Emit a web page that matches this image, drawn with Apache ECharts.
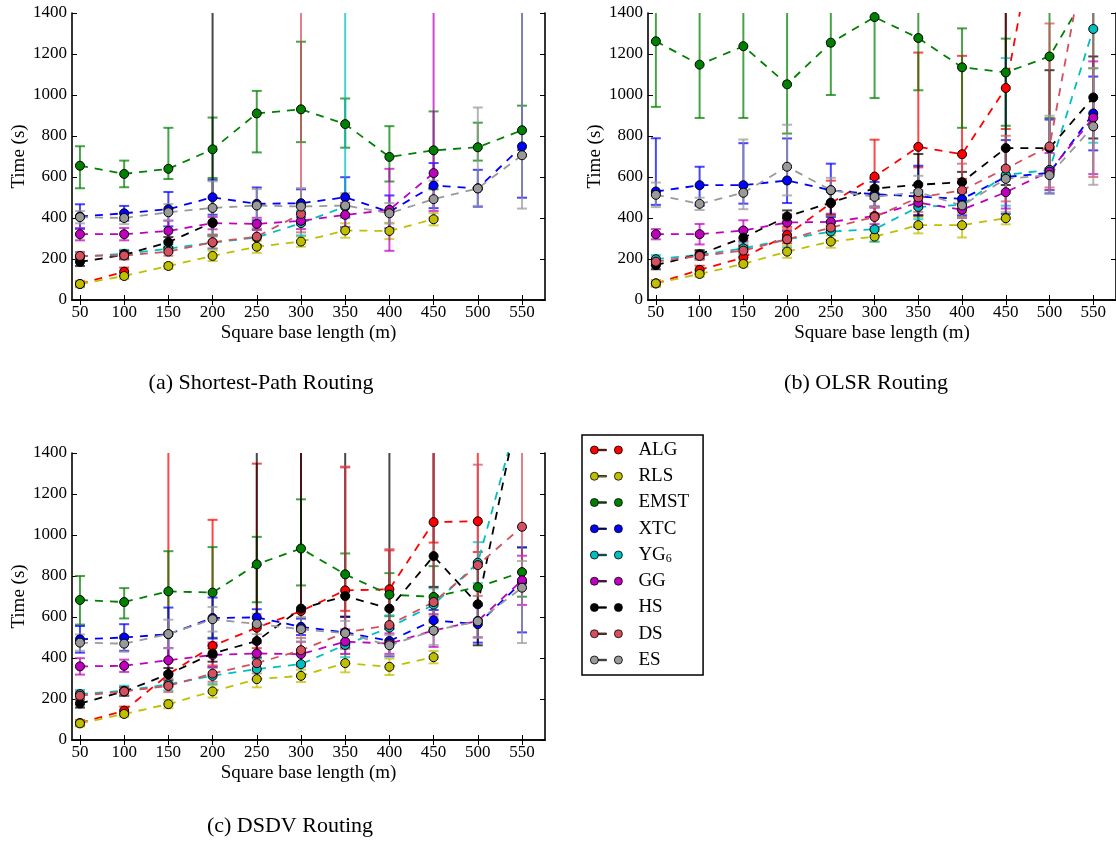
<!DOCTYPE html>
<html>
<head>
<meta charset="utf-8">
<script src="https://cdn.jsdelivr.net/npm/echarts@6/dist/echarts.min.js"></script>
<style>html,body{margin:0;padding:0;background:#fff}#c{width:1116px;height:842px}</style>
</head>
<body>
<div id="c"></div>
<script>
// ---------- DATA ----------
const xValues = [50, 100, 150, 200, 250, 300, 350, 400, 450, 500, 550];
const yTicks = [0, 200, 400, 600, 800, 1000, 1200, 1400];
const algorithms = ['ALG', 'RLS', 'EMST', 'XTC', 'YG6', 'GG', 'HS', 'DS', 'ES'];

// (a) Shortest-Path Routing  (values, error half-widths or [down, up])
const spALG  = [78, 138];
const spALGErr  = [15, 20];
const spRLS  = [78, 117, 166, 215, 260, 285, 339, 337, 394];
const spRLSErr  = [15, 15, 15, 25, 30, 25, 35, 40, 30];
const spEMST = [655, 615, 640, 735, 910, 930, 858, 698, 730, 745, 828];
const spEMSTErr = [[110, 95], 65, [50, 200], [140, 155], [190, 110], [160, 330], [115, 125], [120, 150], [190, 190], [65, 120], [120, 120]];
const spXTC  = [407, 423, 443, 501, 469, 472, 501, 430, 558, 545, 749];
const spXTCErr  = [60, 36, 84, 85, 80, 68, 98, 80, 110, 90, [250, 1000]];
const spYG6  = [212, 225, 250, 280, 305, 375, 455];
const spYG6Err  = [20, 20, 20, 30, 40, 60, [100, 1000]];
const spGG   = [321, 321, 337, 375, 371, 386, 415, 440, 619];
const spGGErr   = [30, 30, 50, 30, 30, 40, 60, 200, [185, 1000]];
const spHS   = [186, 220, 282, 378];
const spHSErr   = [20, 20, 25, [60, 1200]];
const spDS   = [215, 217, 236, 282, 309, 420];
const spDSErr   = [20, 20, 20, 30, 40, [90, 1000]];
const spES   = [404, 400, 428, 449, 461, 456, 461, 423, 492, 544, 706];
const spESErr   = [30, 30, 40, 130, 80, 90, 60, 50, 90, [85, 395], [260, 1000]];

// (b) OLSR Routing
const olsrALG  = [81, 147, 207, 317, 472, 602, 747, 711, 1034, 2180];
const olsrALGErr  = [15, 20, 25, 40, 110, 180, [100, 460], [120, 480], [200, 1000], [400, 1000]];
const olsrRLS  = [81, 127, 176, 236, 285, 309, 365, 365, 399];
const olsrRLSErr  = [15, 15, 15, 30, 30, 25, 40, 60, 30];
const olsrEMST = [1262, 1148, 1238, 1052, 1255, 1380, 1278, 1135, 1110, 1188, 1550];
const olsrEMSTErr = [[320, 400], [260, 400], [350, 400], [240, 400], [255, 400], [395, 300], [255, 400], [295, 190], [260, 165], [300, 300], [420, 400]];
const olsrXTC  = [529, 560, 560, 583, 535, 516, 505, 493, 600, 620, 910];
const olsrXTCErr  = [[65, 260], [100, 90], [90, 205], [110, 205], 130, 60, 150, 80, 180, [100, 260], 180];
const olsrYG6  = [199, 220, 252, 296, 334, 345, 454, 464, 610, 635, 1322];
const olsrYG6Err  = [20, 20, 30, 40, 40, 60, 60, 60, [150, 570], 100, [555, 200]];
const olsrGG   = [321, 321, 339, 378, 381, 410, 475, 440, 526, 627, 889];
const olsrGGErr   = [25, 50, 50, 40, 40, 40, 60, 40, 80, 90, 275];
const olsrHS   = [170, 223, 304, 407, 475, 544, 562, 575, 741, 741, 988];
const olsrHSErr   = [20, 20, 40, 30, 60, 50, 150, 50, [180, 1000], [100, 380], 200];
const olsrDS   = [187, 215, 241, 296, 353, 405, 500, 535, 641, 749, 1900];
const olsrDSErr   = [20, 20, 30, 50, 60, 50, 70, 130, 160, [200, 600], [1300, 1000]];
const olsrES   = [513, 469, 523, 650, 536, 503, 526, 461, 591, 609, 847];
const olsrESErr   = [60, 30, [80, 260], [140, 205], 60, 50, 80, 60, 60, [90, 290], 285];

// (c) DSDV Routing
const dsdvALG  = [83, 143, 320, 459, 548, 629, 730, 735, 1063, 1067];
const dsdvALGErr  = [15, 20, [60, 1200], [100, 615], [100, 800], [100, 800], [100, 600], [100, 190], [100, 600], [150, 600]];
const dsdvRLS  = [81, 127, 175, 237, 297, 313, 375, 357, 404];
const dsdvRLSErr  = [15, 15, 20, 30, 40, 30, 45, 40, 30];
const dsdvEMST = [683, 673, 725, 719, 857, 934, 808, 709, 698, 746, 819];
const dsdvEMSTErr = [[120, 117], [80, 68], [200, 196], [220, 222], [185, 134], [180, 240], 102, 105, 150, [80, 100], 120];
const dsdvXTC  = [491, 500, 516, 595, 598, 552, 525, 483, 584, 565, 770];
const dsdvXTCErr  = [65, 65, 130, 100, 40, 40, 75, 75, 50, 90, [245, 170]];
const dsdvYG6  = [224, 240, 272, 313, 346, 370, 464, 548, 660, 865, 1650];
const dsdvYG6Err  = [20, 25, 30, 40, 50, 60, 60, 60, 80, 100, [200, 1000]];
const dsdvGG   = [359, 362, 389, 415, 422, 419, 480, 470, 534, 581, 779];
const dsdvGGErr   = [40, 30, 60, 60, 50, 60, 60, 50, 80, 80, 120];
const dsdvHS   = [178, 237, 321, 422, 483, 641, 702, 641, 897, 662, 1700];
const dsdvHSErr   = [20, 20, 30, 40, [80, 1000], [100, 1000], [100, 1000], [100, 1000], [150, 1000], 200, [200, 1000]];
const dsdvDS   = [216, 237, 264, 324, 375, 438, 524, 561, 673, 853, 1040];
const dsdvDSErr   = [20, 20, 30, 40, 50, 60, [80, 810], [80, 370], [100, 1000], [150, 490], [300, 1000]];
const dsdvES   = [475, 470, 517, 589, 566, 540, 521, 462, 534, 579, 743];
const dsdvESErr   = [40, 40, 70, 60, 50, 60, 60, 50, 70, 80, [270, 130]];

const captions = ['(a) Shortest-Path Routing', '(b) OLSR Routing', '(c) DSDV Routing'];
const xAxisTitle = 'Square base length (m)';
const yAxisTitle = 'Time (s)';

// ---------- STYLE / BUILD ----------
const colors = {ALG:'#ff0000', RLS:'#bfbf00', EMST:'#008000', XTC:'#0000ff', YG6:'#00bfbf', GG:'#bf00bf', HS:'#000000', DS:'#d4505e', ES:'#999999'};
const FONT = 'Liberation Serif';

const panels = [
  {ALG:[spALG,spALGErr],RLS:[spRLS,spRLSErr],EMST:[spEMST,spEMSTErr],XTC:[spXTC,spXTCErr],YG6:[spYG6,spYG6Err],GG:[spGG,spGGErr],HS:[spHS,spHSErr],DS:[spDS,spDSErr],ES:[spES,spESErr]},
  {ALG:[olsrALG,olsrALGErr],RLS:[olsrRLS,olsrRLSErr],EMST:[olsrEMST,olsrEMSTErr],XTC:[olsrXTC,olsrXTCErr],YG6:[olsrYG6,olsrYG6Err],GG:[olsrGG,olsrGGErr],HS:[olsrHS,olsrHSErr],DS:[olsrDS,olsrDSErr],ES:[olsrES,olsrESErr]},
  {ALG:[dsdvALG,dsdvALGErr],RLS:[dsdvRLS,dsdvRLSErr],EMST:[dsdvEMST,dsdvEMSTErr],XTC:[dsdvXTC,dsdvXTCErr],YG6:[dsdvYG6,dsdvYG6Err],GG:[dsdvGG,dsdvGGErr],HS:[dsdvHS,dsdvHSErr],DS:[dsdvDS,dsdvDSErr],ES:[dsdvES,dsdvESErr]}
];

const grids = [
  {left: 72, top: 13, width: 473, height: 287},
  {left: 648, top: 13, width: 473, height: 287},
  {left: 72, top: 453, width: 473, height: 287}
];

const xAxes = [], yAxes = [], series = [];
const axisLineStyle = {show: true, lineStyle: {color: '#000', width: 1.6}};
const tickStyle = {show: true, inside: true, length: 5, lineStyle: {color: '#000', width: 1}};

grids.forEach((g, gi) => {
  xAxes.push({type: 'value', gridIndex: gi, min: 41, max: 576, position: 'bottom',
    axisLine: axisLineStyle, splitLine: {show: false},
    axisTick: Object.assign({customValues: xValues}, tickStyle),
    axisLabel: {customValues: xValues, color: '#000', fontFamily: FONT, fontSize: 17, margin: 4},
    name: xAxisTitle, nameLocation: 'middle', nameGap: 24,
    nameTextStyle: {color: '#000', fontFamily: FONT, fontSize: 19}});
  xAxes.push({type: 'value', gridIndex: gi, min: 41, max: 576, position: 'top',
    axisLine: axisLineStyle, splitLine: {show: false},
    axisTick: Object.assign({customValues: xValues}, tickStyle),
    axisLabel: {show: false}});
  yAxes.push({type: 'value', gridIndex: gi, min: 0, max: 1400, interval: 200, position: 'left',
    axisLine: axisLineStyle, splitLine: {show: false}, axisTick: tickStyle,
    axisLabel: {color: '#000', fontFamily: FONT, fontSize: 17, margin: 5, formatter: v => String(v)},
    name: yAxisTitle, nameLocation: 'middle', nameGap: 43, nameRotate: 90,
    nameTextStyle: {color: '#000', fontFamily: FONT, fontSize: 19}});
  yAxes.push({type: 'value', gridIndex: gi, min: 0, max: 1400, interval: 200, position: 'right',
    axisLine: axisLineStyle, splitLine: {show: false}, axisTick: tickStyle,
    axisLabel: {show: false}});

  const xi = gi * 2, yi = gi * 2;
  algorithms.forEach((alg) => {
    const [vals, errs] = panels[gi][alg];
    const col = colors[alg];
    const barData = vals.map((v, i) => {
      const e = errs[i];
      const d = Array.isArray(e) ? e[0] : e;
      const u = Array.isArray(e) ? e[1] : e;
      return [xValues[i], v - d, v + u];
    });
    series.push({
      type: 'custom', name: alg, xAxisIndex: xi, yAxisIndex: yi, clip: true, silent: true,
      data: barData,
      itemStyle: {color: col, borderColor: '#000', borderWidth: 1},
      encode: {x: 0, y: [1, 2]},
      renderItem: function (params, api) {
        const x = api.value(0), lo = api.value(1), hi = api.value(2);
        const p1 = api.coord([x, hi]), p2 = api.coord([x, lo]);
        const w = 5;
        const st = {stroke: col, lineWidth: 2, opacity: 0.72};
        return {type: 'group', children: [
          {type: 'line', shape: {x1: p1[0], y1: p1[1], x2: p2[0], y2: p2[1]}, style: st},
          {type: 'line', shape: {x1: p1[0] - w, y1: p1[1], x2: p1[0] + w, y2: p1[1]}, style: st},
          {type: 'line', shape: {x1: p2[0] - w, y1: p2[1], x2: p2[0] + w, y2: p2[1]}, style: st}
        ]};
      }
    });
    series.push({
      type: 'line', name: alg, xAxisIndex: xi, yAxisIndex: yi, clip: true,
      data: vals.map((v, i) => [xValues[i], v]),
      symbol: 'circle', symbolSize: 9, showAllSymbol: true,
      lineStyle: {color: col, width: 1.8, type: [8, 7]},
      itemStyle: {color: col, borderColor: '#000', borderWidth: 1},
      emphasis: {disabled: true},
      animation: false
    });
  });
});

const capPos = [[261, 383], [866, 383], [290, 826]];
const graphics = captions.map((t, i) => ({
  type: 'text', x: capPos[i][0], y: capPos[i][1],
  style: {text: t, fontFamily: FONT, fontSize: 22, fill: '#000', textAlign: 'center', textVerticalAlign: 'middle'}
}));

const chart = echarts.init(document.getElementById('c'), null, {renderer: 'canvas'});
chart.setOption({
  animation: false,
  backgroundColor: '#fff',
  grid: grids.map(g => Object.assign({containLabel: false}, g)),
  xAxis: xAxes,
  yAxis: yAxes,
  legend: {
    data: algorithms,
    orient: 'vertical', left: 582, top: 435,
    backgroundColor: '#fff', borderColor: '#000', borderWidth: 1.5, borderRadius: 0,
    padding: [5, 14, 5, 8],
    itemWidth: 32, itemHeight: 8, itemGap: 6.25,
    icon: 'path://M1,5A4,4,0,1,1,9,5A4,4,0,1,1,1,5Z M9,4.3L17,4.3L17,5.7L9,5.7Z M25,5A4,4,0,1,1,33,5A4,4,0,1,1,25,5Z',
    itemStyle: {borderColor: '#000', borderWidth: 0.8},
    formatter: function (n) { return n === 'YG6' ? 'YG{sub|6}' : n; },
    textStyle: {fontFamily: FONT, fontSize: 19, color: '#000', lineHeight: 20, padding: [0, 0, 0, 11],
      rich: {sub: {fontFamily: FONT, fontSize: 12, verticalAlign: 'bottom', padding: [8, 0, 0, 0]}}}
  },
  graphic: graphics,
  series: series
});
</script>
</body>
</html>
